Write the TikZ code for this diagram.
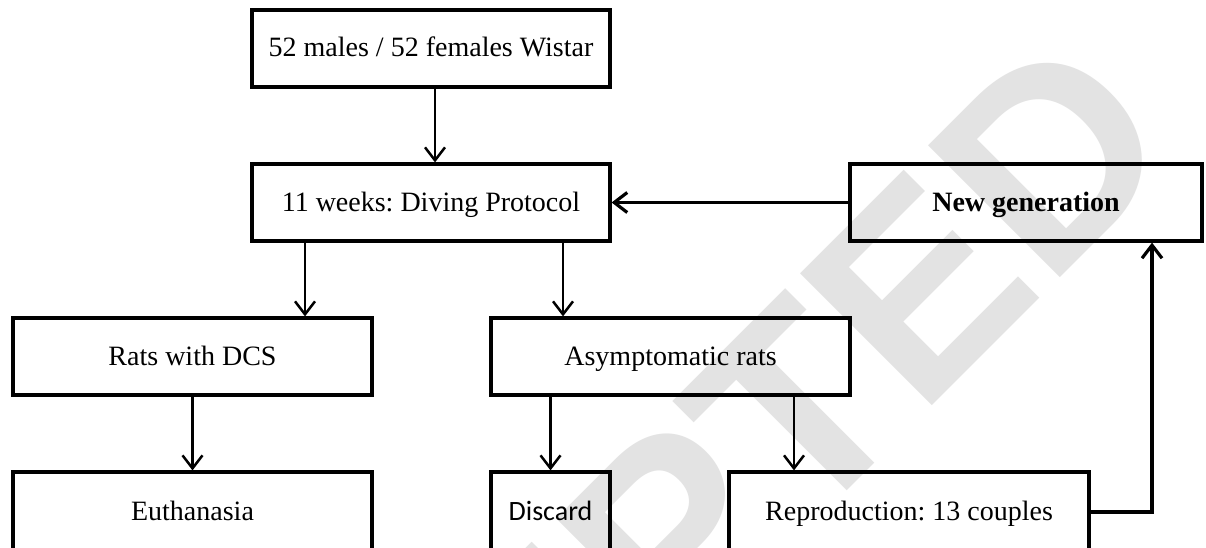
\documentclass[tikz,border=0pt]{standalone}
\usepackage{fontspec}
\setmainfont{Liberation Serif}
\newfontfamily\carlito{Carlito}
\newfontfamily\wmfont{Liberation Sans}
\usetikzlibrary{arrows.meta}
\tikzset{
  box/.style={draw, line width=3.2pt, inner sep=0pt, minimum height=77pt,
    text height=21pt, text depth=4pt,
    font=\fontsize{28}{31}\selectfont\frenchspacing},
  arr/.style={line width=2.5pt, -{Straight Barb[length=13pt,width=20pt]}},
  thickarr/.style={line width=3.2pt, -{Straight Barb[length=13pt,width=20pt]}},
  wm/.style={text=black!11, inner sep=0pt, rotate=45,
    font=\wmfont\bfseries\fontsize{271}{271}\selectfont}
}
\begin{document}
\begin{tikzpicture}[x=1pt,y=1pt]
\useasboundingbox (0,0) rectangle (1206,-548);
\clip (0,0) rectangle (1206,-548);
\fill[white] (0,0) rectangle (1206,-548);
% watermark
\node[wm, anchor=base west] (wmark) at (132,-1206) {ACCEPTED};
% boxes
\node[box, minimum width=358pt] (n1) at (431,-48.5) {52 males / 52 females Wistar};
\node[box, minimum width=358pt] (n2) at (431,-202.5) {11 weeks: Diving Protocol};
\node[box, minimum width=352pt] (ng) at (1026,-202.5) {\bfseries New generation};
\node[box, minimum width=359pt] (rats) at (192.5,-356.5) {Rats with DCS};
\node[box, minimum width=359pt] (asym) at (670.5,-356.5) {Asymptomatic rats};
\node[box, minimum width=359pt, minimum height=80pt] (euth) at (192.5,-512) {Euthanasia};
\node[box, minimum width=119pt, minimum height=80pt] (disc) at (550.5,-512) {\carlito Discard};
\node[box, minimum width=360pt, minimum height=80pt] (repro) at (909,-512) {Reproduction: 13 couples};
% connectors
\draw[arr] ([xshift=4pt]n1.south) -- ([xshift=4pt]n2.north);
\draw[arr] ([xshift=-126pt]n2.south) -- ([xshift=-126pt]n2.south |- rats.north);
\draw[arr] ([xshift=132pt]n2.south) -- ([xshift=132pt]n2.south |- asym.north);
\draw[thickarr] (ng.west) -- (n2.east);
\draw[arr] (rats.south) -- (euth.north);
\draw[arr] (asym.south -| disc.north) -- (disc.north);
\draw[arr] ([xshift=-115pt]repro.north |- asym.south) -- ([xshift=-115pt]repro.north);
\draw[thickarr] (repro.east) -| ([xshift=126pt]ng.south);
\end{tikzpicture}
\end{document}
